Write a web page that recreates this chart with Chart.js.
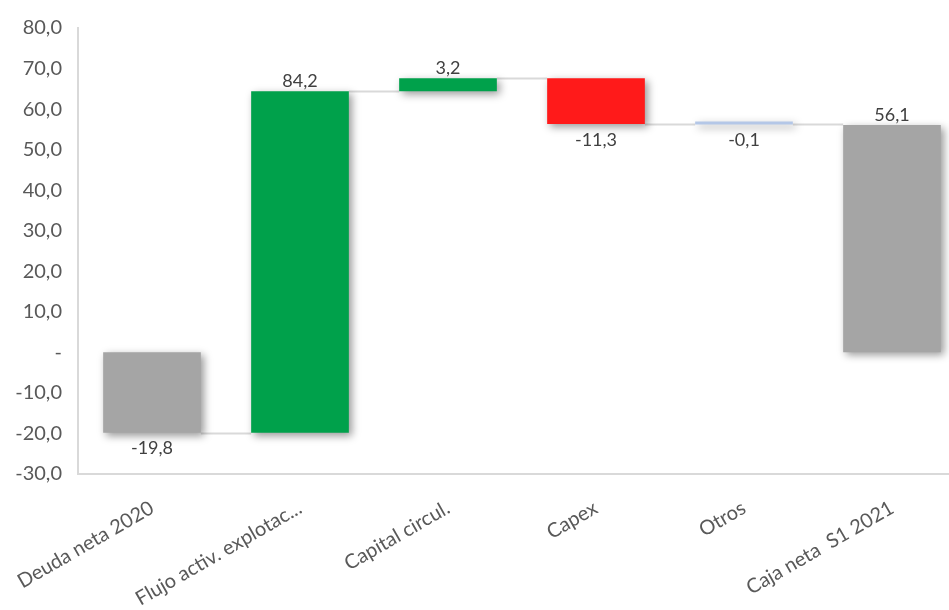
<!DOCTYPE html>
<html>
<head>
<meta charset="utf-8">
<script src="https://cdn.jsdelivr.net/npm/chart.js@4"></script>
<style>
  html, body { margin: 0; padding: 0; background: #fff; overflow: hidden; }
  #wrap { width: 966px; height: 610px; }
</style>
</head>
<body>
<div id="wrap"><canvas id="grafico"></canvas></div>
<script>
// Datos del grafico (cascada)
var categorias = ['Deuda neta 2020', 'Flujo activ. explotac...', 'Capital circul.', 'Capex', 'Otros', 'Caja neta  S1 2021'];
var valores = [-19.8, 84.2, 3.2, -11.3, -0.1, 56.1];
var esTotal = [true, false, false, false, false, true];
var colores = ['#a5a5a5', '#00a14b', '#00a14b', '#ff1a1a', '#b4c7e7', '#a5a5a5'];
var ticksY = [-30, -20, -10, 0, 10, 20, 30, 40, 50, 60, 70, 80];

// Construimos los tramos flotantes de cada barra
var tramos = [];
var acumulado = 0;
for (let i = 0; i < valores.length; i++) {
    if (esTotal[i]) {
        tramos.push([0, valores[i]]);
        acumulado = valores[i];
    } else {
        tramos.push([acumulado, acumulado + valores[i]]);
        acumulado += valores[i];
    }
}

var fuente = 'Lato, "Open Sans", sans-serif';

function formato(v) {
    if (v === 0) return '-';
    return v.toFixed(1).replace('.', ',');
}

// Sombra suave de las barras
var sombra = {
    id: 'sombra',
    beforeDatasetDraw: function(chart) {
        var ctx = chart.ctx;
        ctx.save();
        ctx.shadowColor = 'rgba(0,0,0,0.4)';
        ctx.shadowBlur = 8;
        ctx.shadowOffsetX = 3;
        ctx.shadowOffsetY = 3;
    },
    afterDatasetDraw: function(chart) {
        chart.ctx.restore();
    }
};

// Lineas de union y etiquetas
var conectores = {
    id: 'conectores',
    beforeDatasetsDraw: function(chart) {
        var ctx = chart.ctx;
        var meta = chart.getDatasetMeta(0);
        var y = chart.scales.y;
        ctx.save();
        ctx.strokeStyle = '#d9d9d9';
        ctx.lineWidth = 2;
        for (let i = 0; i < tramos.length - 1; i++) {
            var a = meta.data[i], b = meta.data[i + 1];
            var fin = tramos[i][1];
            var py = Math.round(y.getPixelForValue(fin)) + 0.5;
            ctx.beginPath();
            ctx.moveTo(a.x + a.width / 2, py);
            ctx.lineTo(b.x - b.width / 2, py);
            ctx.stroke();
        }
        ctx.restore();
    },
    afterDraw: function(chart) {
        var ctx = chart.ctx;
        var meta = chart.getDatasetMeta(0);
        var y = chart.scales.y;
        ctx.save();
        ctx.font = '18px ' + fuente;
        ctx.fillStyle = '#404040';
        ctx.textAlign = 'center';
        for (let i = 0; i < valores.length; i++) {
            var barra = meta.data[i];
            var alto = Math.max(tramos[i][0], tramos[i][1]);
            var bajo = Math.min(tramos[i][0], tramos[i][1]);
            if (valores[i] >= 0) {
                ctx.textBaseline = 'bottom';
                ctx.fillText(formato(valores[i]), barra.x, y.getPixelForValue(alto) - 1);
            } else {
                ctx.textBaseline = 'top';
                ctx.fillText(formato(valores[i]), barra.x, y.getPixelForValue(bajo) + 7);
            }
        }
        ctx.restore();
    }
};

var chart = new Chart(document.getElementById('grafico'), {
    type: 'bar',
    data: {
        labels: categorias,
        datasets: [{
            data: tramos,
            backgroundColor: colores,
            borderWidth: 0,
            minBarLength: 3,
            barPercentage: 0.66,
            categoryPercentage: 1
        }]
    },
    options: {
        responsive: true,
        maintainAspectRatio: false,
        animation: false,
        layout: { padding: { top: 20, right: 0, left: 0, bottom: 0 } },
        plugins: {
            legend: { display: false },
            tooltip: { enabled: false }
        },
        scales: {
            x: {
                grid: { display: false, drawTicks: false },
                border: { color: '#d9d9d9', width: 2 },
                ticks: {
                    color: '#595959',
                    font: { family: fuente, size: 20 },
                    maxRotation: 30,
                    minRotation: 30,
                    padding: 22,
                    autoSkip: false
                },
                afterFit: function(scale) {
                    scale.height = 136;
                    scale.paddingLeft = 0;
                    scale.paddingRight = 0;
                }
            },
            y: {
                min: -30,
                max: 80,
                afterBuildTicks: function(scale) {
                    scale.ticks = ticksY.map(function(v) { return { value: v }; });
                },
                grid: { display: false, drawTicks: false },
                border: { color: '#d9d9d9', width: 2 },
                ticks: {
                    color: '#595959',
                    font: { family: fuente, size: 20 },
                    padding: 16,
                    callback: function(v) { return formato(v); }
                },
                afterFit: function(scale) { scale.width = 78; }
            }
        }
    },
    plugins: [conectores, sombra]
});
</script>
</body>
</html>
